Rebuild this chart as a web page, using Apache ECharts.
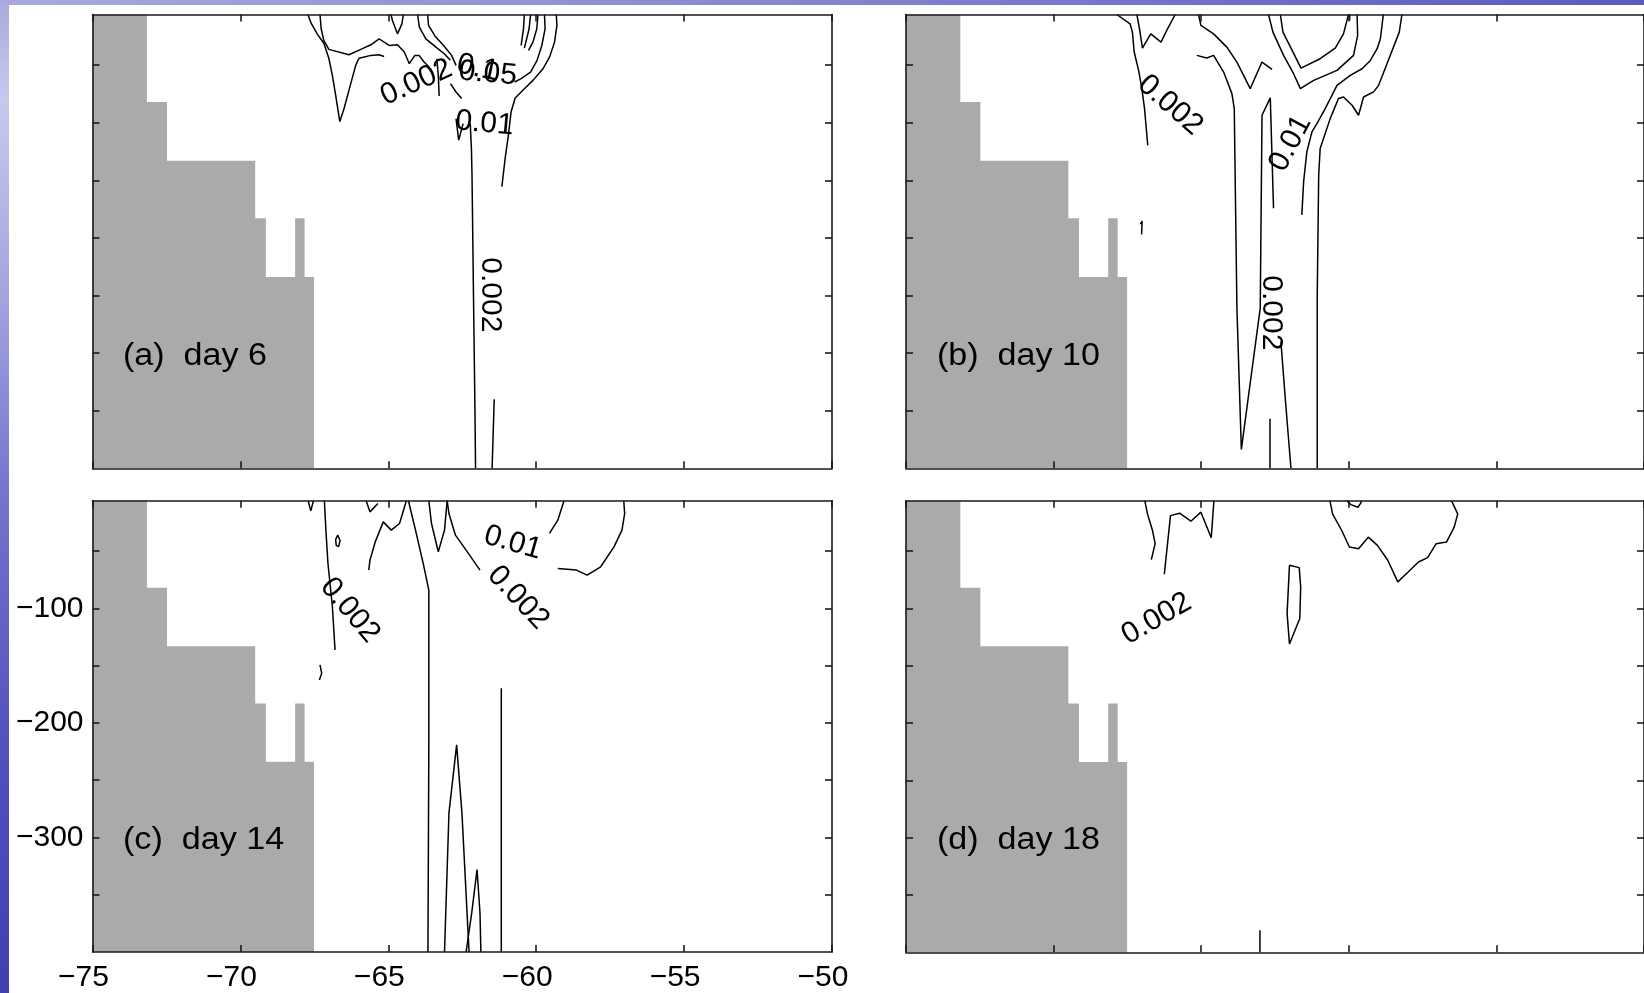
<!DOCTYPE html>
<html><head><meta charset="utf-8">
<script src="https://cdn.jsdelivr.net/npm/echarts@6/dist/echarts.min.js"></script>
<style>
html,body{margin:0;padding:0;width:1644px;height:993px;overflow:hidden;background:#fff;}
#bgTop{position:absolute;left:0;top:0;width:1644px;height:5px;background:linear-gradient(to right,#a9a9dc,#8c8cd3 40%,#5a5ac0);}
#bgLeft{position:absolute;left:0;top:0;width:9px;height:993px;background:linear-gradient(to bottom,#a9a9dc 0%,#c9c9ee 10%,#a3a3df 30%,#7474cc 50%,#5252bd 75%,#3f3fb2 100%);}
#chart{position:absolute;left:0;top:0;width:1644px;height:993px;}
</style></head><body>
<div id="bgTop"></div><div id="bgLeft"></div><div id="chart"></div>
<script>
// ---------- axes / ticks ----------
const xMin = -75, xMax = -50, xStep = 5;
const yMin = -400, yMax = -6;
const yTickValues = [-50, -100, -150, -200, -250, -300, -350];
const yLabelValues = [-100, -200, -300];
const panelTitles = ['(a)  day 6', '(b)  day 10', '(c)  day 14', '(d)  day 18'];

// ---------- land mask outline (lon, depth) ----------
const landX = [-75, -73.16, -73.16, -72.48, -72.48, -69.5, -69.5, -69.14, -69.14, -68.15, -68.15, -67.83, -67.83, -67.51, -67.51, -75];
const landY = [-6, -6, -82, -82, -133, -133, -183, -183, -234, -234, -183, -183, -234, -234, -400, -400];

// ---------- contour lines: day 6 ----------
const day6Lines = [
  [[-67.72,-6],[-67.60,-14],[-67.40,-23],[-67.18,-31],[-67.01,-44],[-66.89,-59],[-66.78,-76],[-66.64,-99],[-66.50,-88],[-66.29,-68],[-66.10,-50],[-65.99,-44],[-65.59,-41.5],[-65.31,-41],[-65.14,-42.4]],
  [[-67.31,-6],[-67.27,-18.4],[-67.18,-28.5],[-67.01,-36.3],[-66.33,-40.9],[-65.93,-36.3],[-65.59,-32.3],[-65.31,-27.1],[-64.97,-32.9],[-64.69,-32.3],[-64.46,-38.6],[-64.29,-48.7],[-64.10,-41.5],[-63.96,-41.5],[-63.79,-47.3],[-63.62,-51.6]],
  [[-63.36,-44.4],[-63.31,-58.8],[-63.28,-76.7]],
  [[-64.91,-6],[-64.86,-11.2],[-64.69,-22.8],[-64.54,-14.1],[-64.49,-6]],
  [[-64.01,-6],[-63.95,-17],[-63.73,-27.1],[-63.39,-34.3],[-63.11,-40.1],[-62.90,-45.8]],
  [[-63.67,-6],[-63.64,-15.5],[-63.42,-24.8],[-63.13,-32.9],[-62.86,-41.5],[-62.71,-50.2]],
  [[-62.90,-66],[-62.71,-73.3],[-62.52,-79]],
  [[-60.40,-6],[-60.43,-18.4],[-60.51,-32.9]],
  [[-60.19,-6],[-60.24,-18.4],[-60.40,-35.2]],
  [[-59.94,-6],[-59.98,-18.4],[-60.11,-30],[-60.26,-37.2]],
  [[-59.32,-6],[-59.30,-15.5],[-59.38,-30],[-59.55,-43],[-59.77,-53.1],[-60.11,-63.2],[-60.45,-71.8],[-60.71,-78.5],[-60.85,-90.6],[-60.94,-110.8],[-61.05,-131],[-61.16,-155.5]],
  [[-59.72,-6],[-59.70,-18.4],[-59.81,-32.9],[-59.97,-45.8],[-60.19,-56],[-60.51,-61.7],[-60.73,-64.6]],
  [[-62.23,-100.7],[-62.19,-122.4],[-62.17,-145.4],[-62.12,-250],[-62.07,-350],[-62.05,-400]],
  [[-62.71,-96.4],[-62.62,-115.1],[-62.47,-100.7]],
  [[-61.42,-340],[-61.49,-400]]
];
const day6Labels = [
  ['0.002', -64.05, -65, 24],
  ['0.05', -61.64, -57.4, -5],
  ['0.1', -61.98, -52.5, -12],
  ['0.01', -61.75, -100.7, -5],
  ['0.002', -61.54, -249.4, -90]
];

// ---------- contour lines: day 10 ----------
const day10Lines = [
  [[-67.86,-6],[-67.41,-14.1],[-67.33,-21.3],[-67.27,-38.6],[-67.12,-54.5],[-67.01,-70.4],[-66.92,-87.7],[-66.81,-119.5]],
  [[-67.18,-6],[-67.09,-18.4],[-66.99,-35.2],[-66.71,-22.8],[-66.36,-30],[-66.14,-18.4],[-65.88,-6]],
  [[-65.09,-6],[-65.01,-15.5],[-64.58,-22.8],[-64.13,-34.3],[-63.79,-47.3],[-63.34,-70.4],[-62.94,-47.3],[-62.60,-53.6]],
  [[-65.15,-41.5],[-64.81,-43.8],[-64.58,-41.5],[-64.24,-56],[-63.96,-74.7],[-63.88,-87.7],[-63.85,-145.4],[-63.79,-261],[-63.64,-383.6],[-63.00,-261],[-62.94,-93.5],[-62.66,-78.4],[-62.55,-174.3]],
  [[-62.67,-357],[-62.67,-400]],
  [[-62.30,-290],[-62.15,-340],[-61.96,-400]],
  [[-61.07,-400],[-61.07,-252],[-61.02,-145.5],[-60.97,-122.3],[-60.63,-96.4],[-60.35,-79],[-60.18,-77.6],[-59.89,-84.8],[-59.67,-93.5],[-59.50,-77.6],[-59.16,-73.2],[-58.99,-67.5],[-58.64,-44.4],[-58.29,-21.3],[-58.20,-6]],
  [[-61.59,-180],[-61.53,-151],[-61.42,-125],[-61.25,-108],[-61.08,-100.7],[-60.80,-87.7],[-60.40,-67.5],[-59.95,-58.9],[-59.55,-53.1],[-59.27,-45.9],[-59.04,-35.7],[-58.93,-27.1],[-58.83,-6]],
  [[-62.72,-6],[-62.57,-21.3],[-62.21,-41.5],[-61.87,-57.4],[-61.64,-70.4],[-61.19,-63.2],[-60.40,-54.5],[-59.84,-41.5],[-59.70,-24.2],[-59.72,-6]],
  [[-62.32,-6],[-62.23,-21.3],[-61.89,-38.6],[-61.62,-52.5],[-60.97,-44.4],[-60.46,-35.2],[-60.18,-22.8],[-60.01,-6]],
  [[-59.97,-6],[-59.97,-11]],
  [[-67.06,-188],[-67.00,-185.5],[-67.02,-197]]
];
const day10Labels = [
  ['0.002', -66.05, -84.8, -41],
  ['0.01', -61.98, -118, 62],
  ['0.002', -62.64, -265, -90]
];

// ---------- contour lines: day 14 ----------
const day14Lines = [
  [[-67.71,-6],[-67.62,-14.9],[-67.53,-6]],
  [[-67.16,-6],[-67.11,-31.7],[-67.04,-60.8],[-66.89,-98.6],[-66.80,-136.4]],
  [[-66.71,-36],[-66.63,-41],[-66.68,-46],[-66.76,-45],[-66.78,-40],[-66.71,-36]],
  [[-65.75,-6],[-65.62,-15.75],[-65.35,-8.5]],
  [[-65.66,-66.6],[-65.62,-57.9],[-65.44,-41.9],[-65.17,-24.5],[-64.90,-31.7],[-64.62,-25.9],[-64.39,-6]],
  [[-64.32,-6],[-64.08,-31.7],[-63.82,-60.8],[-63.63,-84.0],[-63.63,-220.6],[-63.66,-400]],
  [[-63.63,-6],[-63.54,-25.9],[-63.31,-50.6],[-63.10,-31.7],[-63.01,-6]],
  [[-63.01,-6],[-62.95,-17.2],[-62.73,-36.1],[-62.37,-49.2],[-61.90,-66.6]],
  [[-59.06,-6],[-59.27,-23.0],[-59.55,-34.6]],
  [[-59.27,-65.2],[-58.64,-66.6],[-58.28,-71.0],[-57.82,-63.7],[-57.37,-46.3],[-57.10,-31.7],[-57.01,-17.2],[-57.04,-6]],
  [[-67.31,-149.4],[-67.25,-156.7],[-67.33,-162.5]],
  [[-61.18,-169.8],[-61.18,-400]],
  [[-63.10,-400],[-62.95,-278.8],[-62.69,-219.2],[-62.51,-278.8],[-62.27,-400]],
  [[-62.37,-400],[-62.18,-365.9],[-62.00,-328.1],[-61.90,-365.9],[-61.87,-400]]
];
const day14Labels = [
  ['0.01', -60.79, -42.8, -16],
  ['0.002', -66.30, -101.7, -50],
  ['0.002', -60.61, -90.7, -47]
];

// ---------- contour lines: day 18 ----------
const day18Lines = [
  [[-66.91,-6],[-66.82,-17.5],[-66.65,-32.0],[-66.56,-43.5],[-66.69,-57.4]],
  [[-66.25,-70.2],[-66.04,-19.0],[-65.73,-16.9],[-65.35,-23.9],[-65.01,-16.0],[-64.66,-38.3],[-64.57,-6]],
  [[-62.01,-62.4],[-61.68,-64.4],[-61.63,-81.2],[-61.66,-108.7],[-62.01,-131.0],[-62.09,-104.3],[-62.01,-62.4]],
  [[-60.64,-6],[-60.55,-17.5],[-60.24,-32.0],[-59.98,-46.4],[-59.67,-47.9],[-59.34,-37.8],[-59.03,-45.0],[-58.68,-58.0],[-58.34,-76.8],[-57.99,-68.2],[-57.64,-59.5],[-57.33,-55.7],[-57.04,-43.5],[-56.69,-42.1],[-56.43,-29.1],[-56.31,-17.5],[-56.52,-6]],
  [[-60.07,-6],[-59.93,-9.4],[-59.69,-11.7],[-59.58,-7.4],[-59.58,-6]],
  [[-63.01,-380.8],[-63.01,-400]]
];
const day18Labels = [
  ['0.002', -66.51, -109, 30]
];

// ---------- build ----------
const FONT = '"Liberation Sans", Arial, Helvetica, sans-serif';
const panels = [
  {lines: day6Lines, labels: day6Labels},
  {lines: day10Lines, labels: day10Labels},
  {lines: day14Lines, labels: day14Labels},
  {lines: day18Lines, labels: day18Labels}
];
const boxes = [
  {left: 92.5, top: 14.5, width: 739.5, height: 453.8},
  {left: 906, top: 14.5, width: 739.5, height: 453.8},
  {left: 92.5, top: 500.7, width: 739.5, height: 451.6},
  {left: 906, top: 500.7, width: 739.5, height: 451.6}
];
const titlePos = [[123, 356], [937, 356], [123, 840], [937, 840]];

const lineSt = {color: '#1a1a1a', width: 1.6};
const fmt = v => (v < 0 ? '\u2212' : '') + Math.abs(v);

const grid = [], xAxis = [], yAxis = [], series = [];
boxes.forEach((b, i) => {
  grid.push(Object.assign({show: false, containLabel: false}, b));
  const labeled = (i === 2);
  ['bottom', 'top'].forEach(pos => {
    xAxis.push({
      gridIndex: i, type: 'value', min: xMin, max: xMax, interval: xStep, position: pos, z: 5,
      axisLine: {show: true, onZero: false, lineStyle: lineSt},
      axisTick: {show: true, inside: true, length: 7, lineStyle: lineSt},
      axisLabel: {show: labeled && pos === 'bottom', margin: 11, fontSize: 30, color: '#000', fontFamily: FONT,
                  formatter: fmt, padding: [0, 18, 0, 0], showMinLabel: true, showMaxLabel: true},
      splitLine: {show: false}
    });
  });
  ['left', 'right'].forEach(pos => {
    yAxis.push({
      gridIndex: i, type: 'value', min: yMin, max: yMax, position: pos, z: 5,
      axisLine: {show: true, onZero: false, lineStyle: lineSt},
      axisTick: {show: true, inside: true, length: 7, lineStyle: lineSt, customValues: yTickValues},
      axisLabel: {show: labeled && pos === 'left', margin: 9, fontSize: 30, color: '#000', fontFamily: FONT,
                  formatter: fmt, customValues: yLabelValues},
      splitLine: {show: false}
    });
  });
  // land
  series.push({
    type: 'custom', xAxisIndex: 2 * i, yAxisIndex: 2 * i, z: 1, silent: true,
    data: landX.map((x, k) => [x, landY[k]]),
    renderItem: (params, api) => {
      if (params.dataIndex !== 0) return null;
      const pts = landX.map((x, k) => api.coord([x, landY[k]]));
      return {type: 'polygon', shape: {points: pts}, style: {fill: '#aaaaaa', stroke: null}};
    }
  });
  // contours
  panels[i].lines.forEach(l => {
    series.push({
      type: 'line', xAxisIndex: 2 * i, yAxisIndex: 2 * i, data: l, z: 3, silent: true,
      showSymbol: false, symbol: 'none', lineStyle: {color: '#000', width: 1.5}, clip: true
    });
  });
  // contour labels
  series.push({
    type: 'scatter', xAxisIndex: 2 * i, yAxisIndex: 2 * i, z: 4, silent: true,
    symbolSize: 2, itemStyle: {color: 'rgba(255,255,255,0)'},
    data: panels[i].labels.map(l => ({name: l[0], value: [l[1], l[2]], label: {rotate: l[3]}})),
    label: {show: true, position: 'inside', formatter: '{b}', fontSize: 30, color: '#000', opacity: 1,
            textBorderWidth: 0, textBorderColor: 'transparent', fontFamily: FONT}
  });
});

const chart = echarts.init(document.getElementById('chart'), null, {renderer: 'canvas'});
chart.setOption({
  animation: false,
  backgroundColor: 'transparent',
  grid, xAxis, yAxis, series,
  graphic: panelTitles.map((t, i) => ({
    type: 'text', x: titlePos[i][0], y: titlePos[i][1], z: 10, scaleX: 1.1,
    style: {text: t, fontSize: 31, fontFamily: FONT, fill: '#000', align: 'left', verticalAlign: 'middle'}
  }))
});
</script></body></html>
